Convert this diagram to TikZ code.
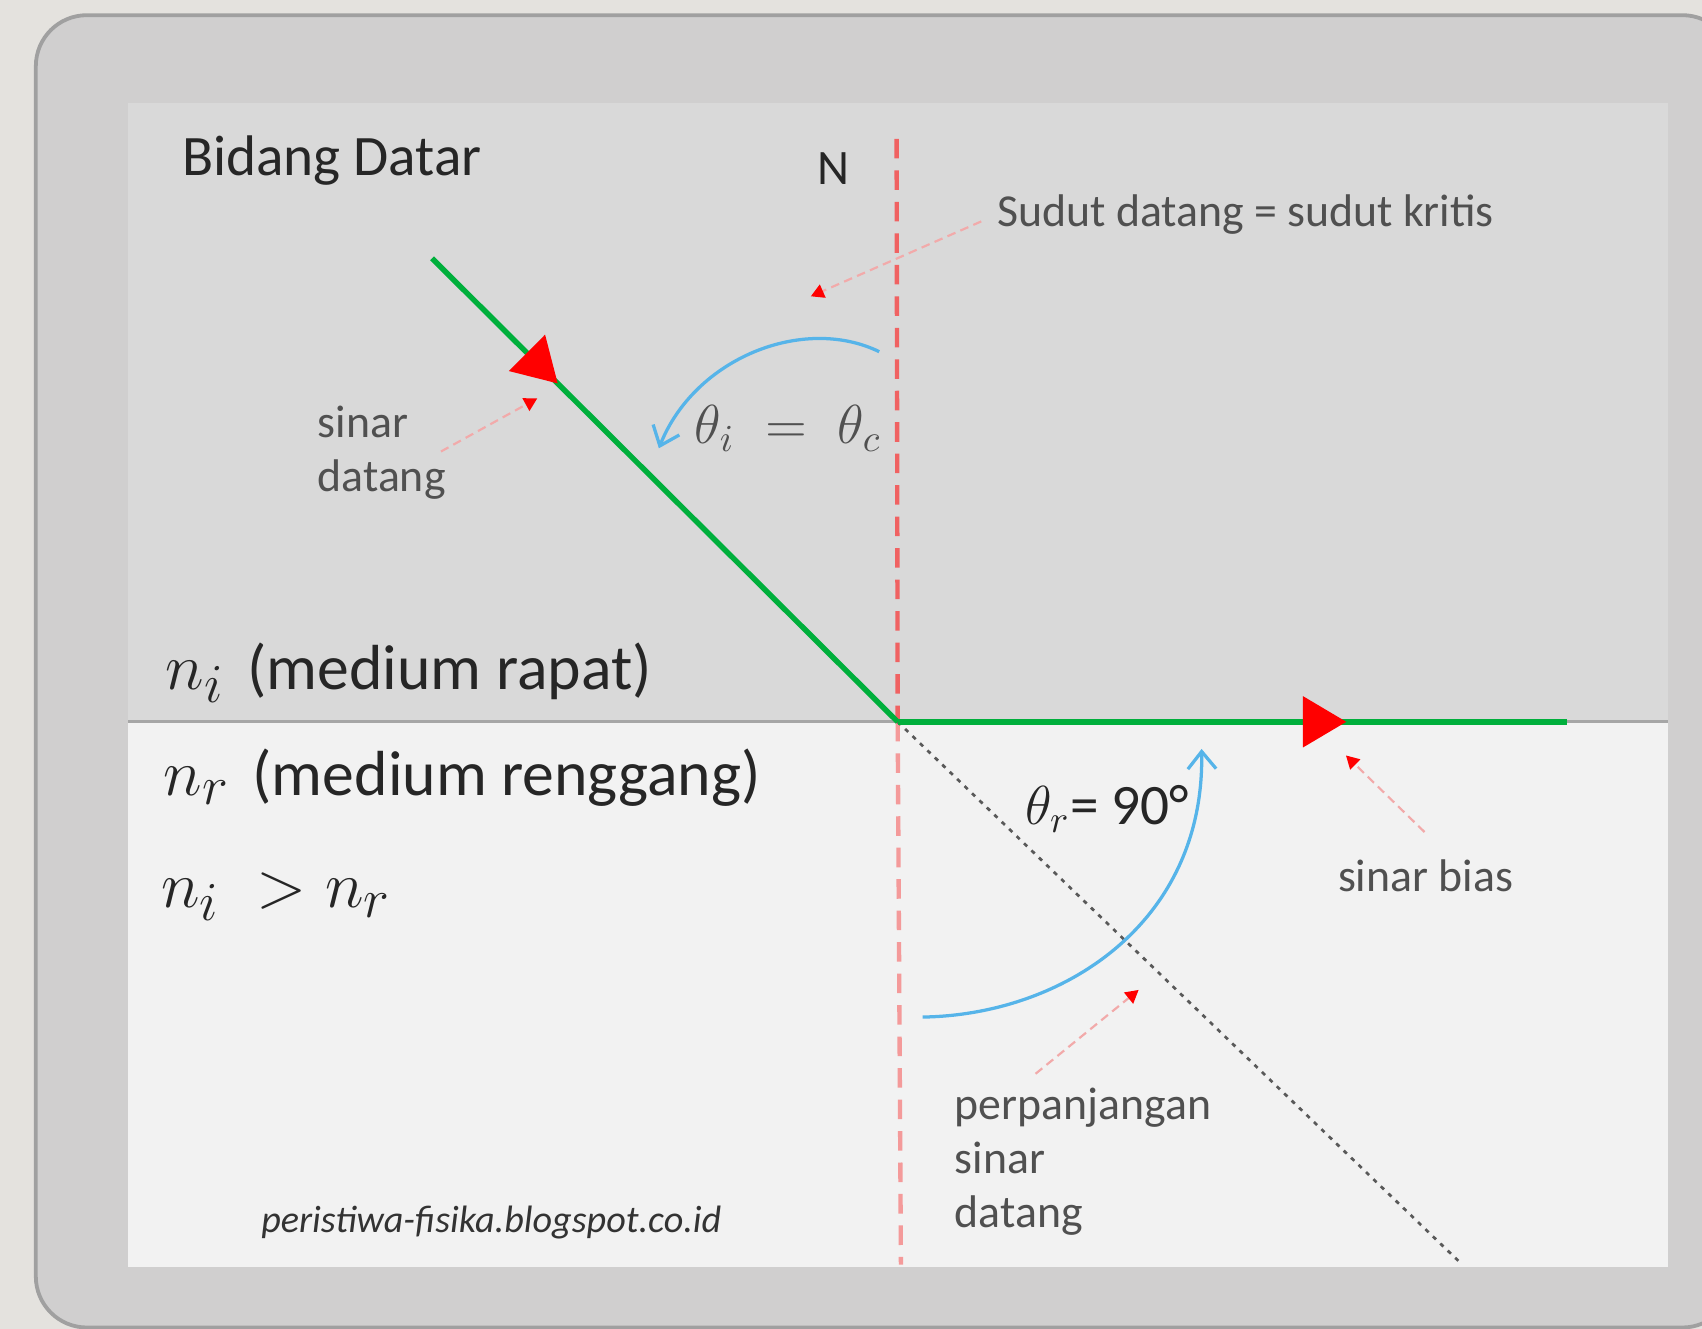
\documentclass[tikz,border=0pt]{standalone}
\usepackage{fontspec}
\setmainfont{Carlito}
\usetikzlibrary{arrows.meta,decorations.markings}
\definecolor{outbg}{HTML}{E4E2DE}
\definecolor{framefill}{HTML}{D0CFCF}
\definecolor{frameline}{HTML}{A0A0A0}
\definecolor{upperfill}{HTML}{D9D9D9}
\definecolor{lowerfill}{HTML}{F2F2F2}
\definecolor{ifline}{HTML}{A6A6A6}
\definecolor{raygreen}{HTML}{00AF3C}
\definecolor{arcblue}{HTML}{56B4E9}
\definecolor{normup}{HTML}{F06262}
\definecolor{normlow}{HTML}{F49A9A}
\definecolor{ptrpink}{HTML}{F2AAAA}
\definecolor{txtdark}{HTML}{262626}
\definecolor{txtgray}{HTML}{505050}
\begin{document}
\begin{tikzpicture}[x=0.1mm,y=-0.1mm,
  lbl/.style={inner sep=0pt, text=txtgray, font=\fontsize{12}{14.2}\selectfont},
  medlbl/.style={inner sep=0pt, text=txtdark, anchor=west},
  ray/.style={draw=raygreen, line width=0.5mm},
  ptr/.style={draw=ptrpink, line width=0.2mm, dash pattern=on 0.8mm off 0.5mm,
    -{Triangle[length=1.2mm,width=1.3mm,red]}},
  arcb/.style={draw=arcblue, line width=0.3mm, -{Straight Barb[length=1.6mm,width=2.6mm]}},
  rayhead/.style={postaction={decorate}, decoration={markings,
    mark=at position #1 with {\arrow{Triangle[length=4mm,width=4.6mm,red]}}}}
]
\useasboundingbox (0,0) rectangle (1568,1224);
\clip (0,0) rectangle (1568,1224);
\fill[outbg] (0,0) rectangle (1568,1224);
% outer frame
\draw[fill=framefill, draw=frameline, line width=0.35mm, rounded corners=4.7mm]
  (33,14) rectangle (1597,1223);
% panel
\fill[upperfill] (118,95) rectangle (1537,665);
\fill[lowerfill] (118,665) rectangle (1537,1167);
\draw[ifline, line width=0.3mm] (118,665) -- (1537,665);

% coordinates
\coordinate (O) at (827,665);
\coordinate (N1) at (826,128);
\coordinate (N2) at (830,1165);
\coordinate (S) at (398,238);
\coordinate (R) at (1444,665);
\coordinate (E) at (1345,1163);

% normal
\draw[normup, line width=0.4mm, dash pattern=on 1.8mm off 1.1mm] (N1) -- (O);
\draw[normlow, line width=0.4mm, dash pattern=on 1.8mm off 1.1mm] (O) -- (N2);
% extension of incident ray
\draw[black!65, line width=0.25mm, dash pattern=on 0.4mm off 0.55mm] (O) -- (E);
% rays
\draw[ray, rayhead=0.27] (S) -- (O);
\draw[ray, rayhead=0.67] (O) -- (R);

% angle arcs
\coordinate (a1s) at (810,324);
\coordinate (a1e) at (607,413);
\draw[arcb] (a1s) .. controls (740,290) and (640,330) .. (a1e);
\coordinate (a2s) at (850,937);
\coordinate (a2e) at (1107,690);
\draw[arcb] (a2s) .. controls (980,935) and (1110,850) .. (a2e);

% texts
\node[inner sep=0pt, anchor=west, text=txtdark, font=\fontsize{15}{17}\selectfont] (bd) at (167,148) {Bidang Datar};
\node[inner sep=0pt, text=txtdark, font=\fontsize{13}{15}\selectfont] (nn) at (768,155) {N};
\node[lbl, anchor=west] (sd) at (918,198) {Sudut datang = sudut kritis};
\node[lbl, anchor=west, align=left] (sdt) at (292,417) {sinar\\datang};
\node[lbl, anchor=west] (sb) at (1232,807) {sinar bias};
\node[lbl, anchor=west, align=left] (pj) at (879,1070) {perpanjangan\\sinar\\datang};
\node[inner sep=0pt, text=txtgray] (ti) at (726,395) {\fontsize{14}{16}\selectfont$\theta_i \;=\; \theta_c$};
\node[inner sep=0pt, text=txtdark] (tr) at (1020,745) {\fontsize{14}{16}\selectfont$\theta_r$\fontsize{15}{17}\selectfont= 90°};
\node[medlbl] (m1) at (152,620) {\fontsize{19}{21}\selectfont$n_i$\hspace{6pt}\fontsize{16.7}{20}\selectfont(medium rapat)};
\node[medlbl] (m2) at (150,716) {\fontsize{19}{21}\selectfont$n_r$\hspace{6pt}\fontsize{16.7}{20}\selectfont(medium renggang)};
\node[medlbl] (m3) at (148,826) {\fontsize{19}{21}\selectfont$n_i\;> n_r$};
\node[inner sep=0pt, anchor=west, text=black!80, font=\fontsize{10}{12}\selectfont\itshape] (wm) at (240,1126) {peristiwa-fisika.blogspot.co.id};

% pointers
\coordinate (sdtip) at (747,273);
\coordinate (sdttip) at (495,367);
\coordinate (sbtip) at (1240,696);
\coordinate (pjtip) at (1049,912);
\draw[ptr] ([xshift=-1.4mm,yshift=-0.6mm]sd.west) -- (sdtip);
\draw[ptr] ([xshift=-0.5mm,yshift=0.1mm]sdt.east) -- (sdttip);
\draw[ptr] ([xshift=-0.1mm,yshift=2.5mm]sb.north) -- (sbtip);
\draw[ptr] ([xshift=7.5mm,yshift=1.2mm]pj.north west) -- (pjtip);
\end{tikzpicture}
\end{document}
